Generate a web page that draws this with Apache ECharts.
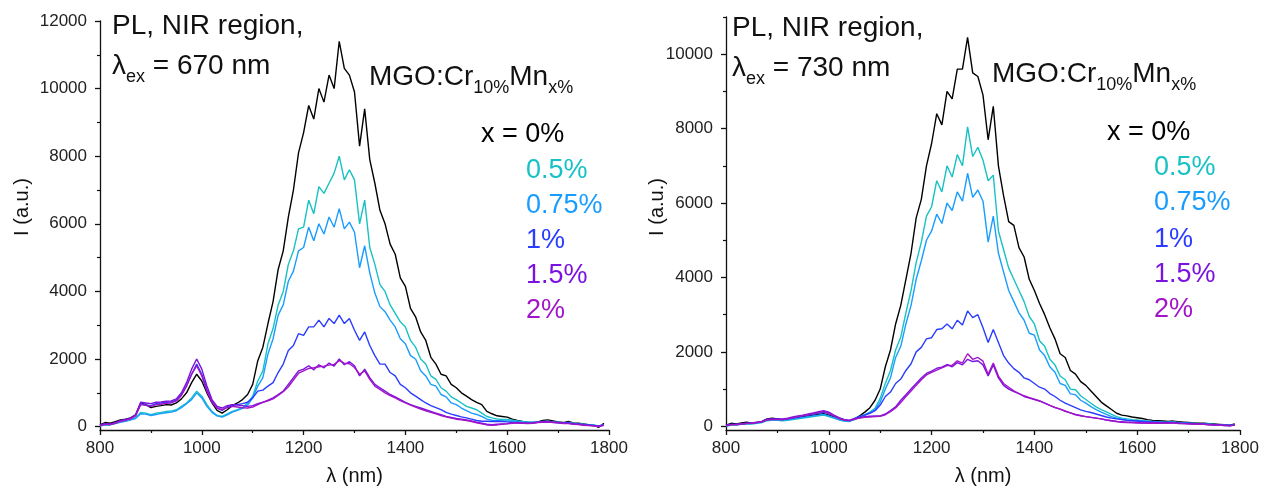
<!DOCTYPE html>
<html><head><meta charset="utf-8">
<script src="https://cdn.jsdelivr.net/npm/echarts@6/dist/echarts.min.js"></script>
<style>html,body{margin:0;padding:0;background:#fff}#c{width:1262px;height:491px}</style>
</head><body><div id="c"></div>
<script>
const FONT = 'Liberation Sans, Arial, sans-serif';
const wavelength = [800,810,820,830,840,850,860,870,880,890,900,910,920,930,940,950,960,970,980,990,1000,1010,1020,1030,1040,1050,1060,1070,1080,1090,1100,1110,1120,1130,1140,1150,1160,1170,1180,1190,1200,1210,1220,1230,1240,1250,1260,1270,1280,1290,1300,1310,1320,1330,1340,1350,1360,1370,1380,1390,1400,1410,1420,1430,1440,1450,1460,1470,1480,1490,1500,1510,1520,1530,1540,1550,1560,1570,1580,1590,1600,1610,1620,1630,1640,1650,1660,1670,1680,1690,1700,1710,1720,1730,1740,1750,1760,1770,1780,1790];
const seriesNames = ['x = 0%','0.5%','0.75%','1%','1.5%','2%'];
const seriesColors = ['#000000','#17c1c4','#189dff','#2a3cff','#7a12e0','#a214c8'];

// excitation 670 nm
const left0 = [50,120,100,150,200,220,260,350,700,650, 560,600,620,650,640,700,820,1000,1300,1550, 1350,1000,700,480,400,500,620,700,800,950, 1250,1950,2350,3050,3700,4650,5200,6200,7000,8100, 8700,9500,9100,10000,9600,10400,10000,11400,10600,10400, 9900,8300,9400,7900,7200,6400,6000,5400,5100,4400, 4150,3500,3250,2800,2550,2050,1850,1550,1500,1250, 1150,1000,900,800,720,650,450,380,320,300, 280,220,180,150,130,120,140,180,200,170, 140,120,150,110,100,80,60,40,-20,100];
const left05 = [30,60,50,100,150,170,200,260,420,400, 350,400,420,450,460,500,600,700,850,1050, 900,650,450,330,300,380,450,500,560,700, 900,1350,1650,2450,2900,3600,4000,4800,5200,5850, 5900,6700,6300,7100,6900,7200,7500,8000,7300,7600, 7300,6000,6700,5300,4800,4200,4000,3600,3350,3100, 2950,2550,2350,2000,1850,1500,1400,1150,1050,880, 800,700,600,550,500,400,300,260,230,210, 210,190,170,150,130,130,140,150,160,140, 130,110,120,100,90,70,60,40,20,60];
const left075 = [20,50,60,90,130,160,200,240,380,370, 330,360,390,410,430,470,560,680,800,1000, 850,600,420,320,280,350,430,480,540,640, 850,1200,1450,2150,2600,3300,3600,4300,4600,5200, 5300,5900,5500,6000,5700,6200,5900,6450,5850,6050, 5750,4700,5350,4550,3950,3550,3400,3150,2950,2600, 2450,2100,2000,1650,1500,1250,1200,950,880,700, 650,550,470,400,360,300,220,190,180,170, 170,160,150,130,120,120,130,140,150,130, 120,100,110,90,80,60,50,40,20,60];
const left1 = [40,80,60,110,170,200,240,330,680,640, 620,680,700,720,730,780,950,1200,1550,1850, 1550,1100,750,550,480,580,640,650,680,720, 850,1050,1080,1200,1300,1600,1850,2250,2400,2750, 2700,2950,2950,3150,2950,3200,3050,3300,3050,3200, 2850,2550,2800,2400,2100,1850,1850,1600,1500,1250, 1150,1000,900,800,700,620,560,500,420,370, 330,290,260,220,180,160,160,150,160,150, 140,120,110,100,100,110,130,140,150,130, 120,110,110,90,80,60,50,30,10,60];
const left15 = [40,90,70,120,180,210,250,350,720,700, 680,720,730,750,760,820,1000,1300,1700,2000, 1700,1200,800,600,550,620,650,640,620,600, 620,680,720,780,850,950,1050,1250,1450,1650, 1700,1800,1680,1830,1740,1880,1790,2000,1830,1920, 1800,1500,1700,1450,1250,1150,1050,950,880,800, 720,650,600,550,500,450,400,350,300,270, 240,220,200,170,130,100,70,60,70,80, 90,110,120,110,100,110,130,140,150,130, 120,100,100,80,70,50,40,30,10,50];
const left2 = [30,70,60,100,160,190,230,320,650,630, 600,650,660,690,700,760,920,1200,1550,1800, 1500,1050,720,550,500,560,600,580,560,550, 580,650,720,760,820,920,1030,1180,1380,1580, 1650,1720,1740,1770,1790,1820,1840,1950,1880,1860, 1750,1550,1650,1400,1200,1100,1000,920,850,770, 700,640,580,520,470,420,380,330,290,250, 220,200,180,150,110,80,50,40,50,70, 80,100,110,100,90,100,120,130,140,120, 110,90,90,70,60,40,30,20,0,40];

// excitation 730 nm
const right0 = [30,80,60,90,110,80,90,130,200,220, 200,180,190,210,230,260,280,300,320,340, 300,250,200,160,140,200,280,380,500,700, 1000,1600,2050,2750,3250,3950,4650,5600,6100,7000, 7600,8400,8100,9000,8800,9600,9600,10450,9500,9400, 8900,7700,8600,7000,6200,5500,5400,4800,4550,3950, 3650,3300,3000,2650,2350,1950,1850,1500,1400,1200, 1100,950,800,650,550,450,350,300,280,250, 230,210,180,160,150,140,130,140,120,110, 100,90,80,80,70,60,50,40,30,60];
const right05 = [0,30,30,50,60,60,80,100,150,170, 160,150,160,180,200,220,240,260,280,300, 260,220,170,140,130,180,250,300,380,480, 750,1150,1500,2050,2400,3050,3650,4400,4950,5650, 5900,6600,6300,7000,6700,7300,7000,8050,7250,7500, 7150,6600,6750,5250,4750,4250,3950,3650,3350,2950, 2750,2300,2150,1800,1650,1350,1250,1000,980,820, 720,620,520,450,390,320,260,220,200,180, 170,150,140,130,120,110,110,120,100,90, 80,80,70,60,60,50,40,30,20,30];
const right075 = [10,40,40,60,70,70,90,110,170,180, 170,170,180,200,220,240,260,280,300,320, 280,230,180,150,140,190,260,310,370,450, 650,1000,1300,1850,2150,2750,3250,3950,4450,5000, 5250,5700,5450,6000,5800,6300,6050,6800,6150,6350, 6050,4950,5650,4650,4150,3650,3350,3050,2850,2500, 2450,2050,1900,1600,1450,1150,1100,870,850,700, 620,530,450,380,320,260,220,190,170,160, 150,140,130,120,110,100,100,110,90,80, 80,70,60,60,50,40,40,30,20,30];
const right1 = [20,50,50,60,80,80,100,120,180,190, 190,180,200,220,250,280,300,330,350,380, 340,280,220,180,160,210,260,300,350,420, 570,800,920,1150,1270,1500,1680,2000,2120,2350, 2380,2600,2620,2750,2620,2850,2720,3100,2920,3000, 2650,2250,2600,2250,1900,1700,1550,1450,1300,1250, 1150,1050,1000,880,800,700,620,560,500,440, 400,370,330,290,250,220,200,180,160,150, 140,130,120,110,110,100,100,100,90,80, 80,70,70,60,50,40,40,30,20,30];
const right15 = [20,50,50,60,80,90,110,130,190,200, 200,200,220,250,280,300,330,360,390,420, 380,300,230,180,160,200,230,260,270,280, 280,330,420,520,700,850,1000,1150,1300,1420, 1480,1560,1590,1660,1600,1710,1650,1800,1740,1760, 1650,1350,1650,1300,1100,1000,930,880,800,760, 720,680,620,560,500,460,400,360,310,280, 260,240,220,200,170,150,130,120,110,100, 100,90,90,100,90,80,90,100,80,70, 70,60,60,50,40,40,30,20,20,30];
const right2 = [10,40,40,60,70,80,100,120,170,180, 180,180,200,230,260,290,310,340,370,400, 350,280,210,170,150,190,220,240,250,260, 270,310,390,490,640,800,950,1100,1250,1380, 1450,1510,1570,1630,1640,1760,1700,1950,1800,1850, 1750,1400,1700,1350,1150,1050,950,880,820,770, 730,680,620,560,510,460,410,360,320,290, 260,240,220,200,170,150,130,110,100,100, 90,90,80,90,80,80,80,90,70,70, 60,60,50,50,40,30,30,20,10,30];

const leftMajor = [0,2000,4000,6000,8000,10000,12000];
const leftMinor = [1000,3000,5000,7000,9000,11000];
const rightMajor = [0,2000,4000,6000,8000,10000];
const rightMinor = [1000,3000,5000,7000,9000,11000];

const leftSets = [left0,left05,left075,left1,left15,left2];
const rightSets = [right0,right05,right075,right1,right15,right2];

const axisColor = '#111';
const plain = v => String(v);
function xAx(grid){
  return {gridIndex:grid,type:'value',min:800,max:1800,interval:200,
    axisLine:{onZero:false,lineStyle:{color:axisColor,width:1.3}},
    axisTick:{length:5,lineStyle:{color:axisColor,width:1.3}},
    minorTick:{show:true,splitNumber:2,length:3,lineStyle:{color:axisColor,width:1.2}},
    axisLabel:{fontSize:17,margin:10,color:'#222',fontFamily:FONT,formatter:plain},
    splitLine:{show:false},
    name:'λ (nm)',nameLocation:'middle',nameGap:36,
    nameTextStyle:{fontSize:20,color:'#111',fontFamily:FONT}};
}
function yAx(grid,max,major){
  return {gridIndex:grid,type:'value',min:-100,max:max,
    axisLine:{show:true,lineStyle:{color:axisColor,width:1.3}},
    axisTick:{show:true,length:5,customValues:major,lineStyle:{color:axisColor,width:1.3}},
    axisLabel:{fontSize:17,margin:13,color:'#222',fontFamily:FONT,customValues:major,formatter:plain},
    splitLine:{show:false}};
}
function yMinor(grid,max,minor){
  return {gridIndex:grid,type:'value',min:-100,max:max,position:'left',
    axisLine:{show:false},
    axisTick:{show:true,length:3,customValues:minor,lineStyle:{color:axisColor,width:1.2}},
    axisLabel:{show:false},splitLine:{show:false}};
}

const series = [];
leftSets.forEach((arr,i)=>{
  series.push({type:'line',name:seriesNames[i],xAxisIndex:0,yAxisIndex:0,showSymbol:false,symbol:'none',
    data:wavelength.map((w,k)=>[w,arr[k]]),lineStyle:{color:seriesColors[i],width:1.4},itemStyle:{color:seriesColors[i]},animation:false});
});
rightSets.forEach((arr,i)=>{
  series.push({type:'line',name:seriesNames[i],xAxisIndex:1,yAxisIndex:2,showSymbol:false,symbol:'none',
    data:wavelength.map((w,k)=>[w,arr[k]]),lineStyle:{color:seriesColors[i],width:1.4},itemStyle:{color:seriesColors[i]},animation:false});
});

const titleRich = {
  m:{fontSize:28,fontFamily:FONT,color:'#111',lineHeight:28,verticalAlign:'top'},
  s:{fontSize:18,fontFamily:FONT,color:'#111',lineHeight:34,verticalAlign:'bottom'}
};
function txt(x,y,text,size,color){
  return {type:'text',x:x,y:y,silent:true,style:{text:text,fontSize:size,fontFamily:FONT,fill:color,textAlign:'left',textVerticalAlign:'middle'}};
}
function vtxt(x,y,text){
  return {type:'text',x:x,y:y,rotation:Math.PI/2,silent:true,style:{text:text,fontSize:20,fontFamily:FONT,fill:'#111',textAlign:'center',textVerticalAlign:'middle'}};
}
function richTxt(x,y,text){
  return {type:'text',x:x,y:y,silent:true,style:{text:text,rich:titleRich,textAlign:'left',textVerticalAlign:'top',fill:'#111'}};
}
function legendBlock(x0,xOthers,ys){
  const out = [txt(x0,ys[0],seriesNames[0],27,seriesColors[0])];
  for(let i=1;i<6;i++) out.push(txt(xOthers,ys[i],seriesNames[i],27,seriesColors[i]));
  return out;
}
const graphic = [
  txt(112,26,'PL, NIR region,',28,'#111'),
  richTxt(112,52,'{m|λ}{s|ex}{m| = 670 nm}'),
  richTxt(369,63,'{m|MGO:Cr}{s|10%}{m|Mn}{s|x%}'),
  vtxt(22,207,'I (a.u.)'),
  txt(732,28,'PL, NIR region,',28,'#111'),
  richTxt(732,54,'{m|λ}{s|ex}{m| = 730 nm}'),
  richTxt(992,60,'{m|MGO:Cr}{s|10%}{m|Mn}{s|x%}'),
  vtxt(657,207,'I (a.u.)')
].concat(legendBlock(481,526,[135,171,206,241,276,311]))
 .concat(legendBlock(1107,1154,[133,168,203,240,275,310]));

const chart = echarts.init(document.getElementById('c'),null,{renderer:'canvas'});
chart.setOption({
  animation:false,
  backgroundColor:'#ffffff',
  grid:[{left:100,right:653,top:21,bottom:59},{left:726,right:22,top:17,bottom:60}],
  xAxis:[xAx(0),xAx(1)],
  yAxis:[yAx(0,12000,leftMajor),yMinor(0,12000,leftMinor),yAx(1,11000,rightMajor),yMinor(1,11000,rightMinor)],
  series:series,
  graphic:graphic
});
</script></body></html>
